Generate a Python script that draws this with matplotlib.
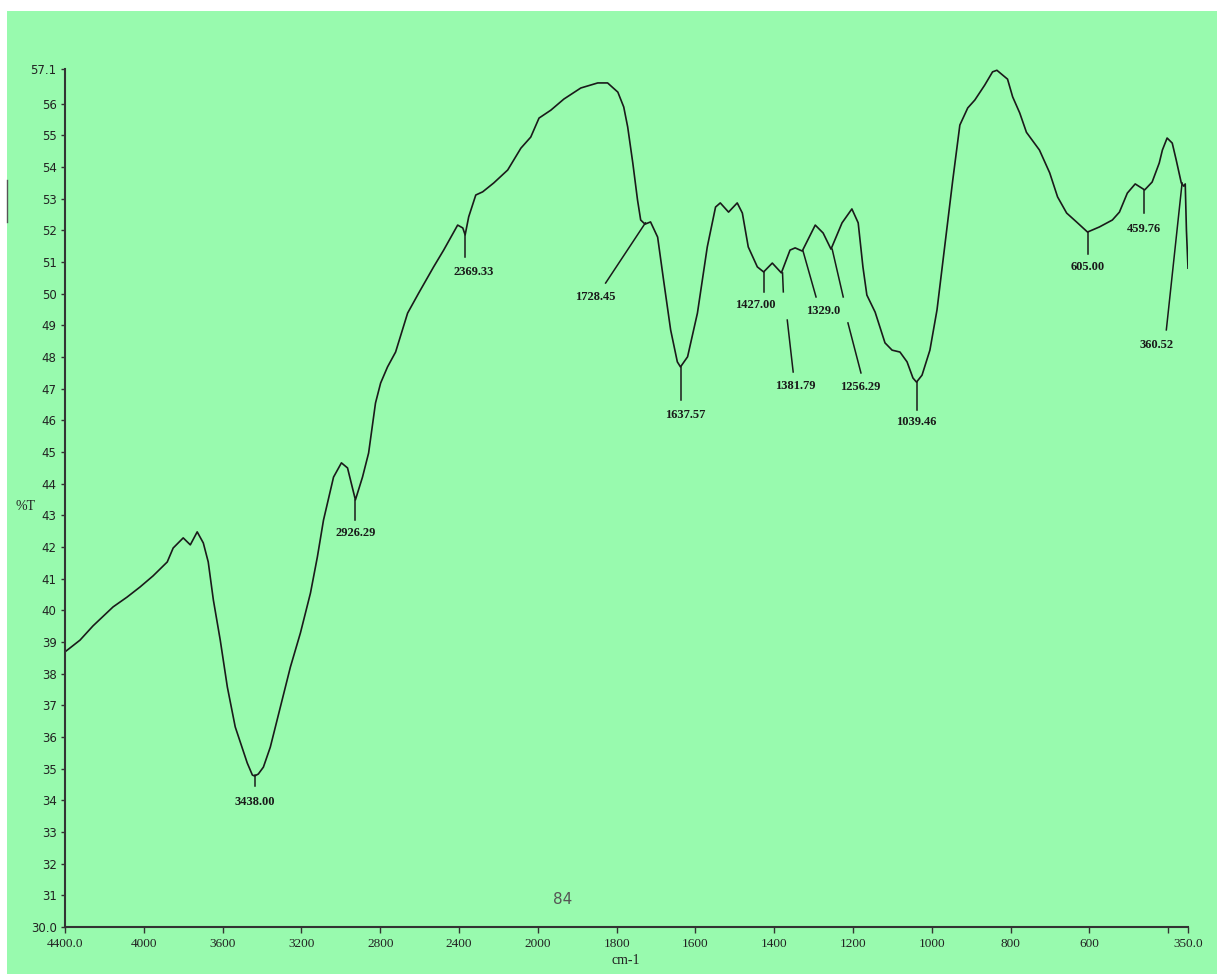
import numpy as np
import matplotlib.pyplot as plt
from matplotlib.lines import Line2D
from matplotlib.patches import Rectangle

# IR spectrum, wavenumber (cm-1) vs transmittance (%T)
wavenumber = [4400, 4324, 4258, 4156, 4085, 4019, 3953, 3881, 3851, 3800,
              3764, 3729, 3698, 3673, 3647, 3612, 3576, 3536, 3475, 3449,
              3438, 3419, 3393, 3358, 3307, 3256, 3205, 3154, 3119, 3088,
              3037, 2997, 2966, 2926, 2890, 2859, 2824, 2798, 2763, 2722,
              2661, 2605, 2529, 2478, 2407, 2381, 2369, 2351, 2315, 2280,
              2224, 2153, 2086, 2036, 1997, 1967, 1934, 1891, 1848, 1823,
              1797, 1782, 1772, 1759, 1747, 1739, 1728, 1714, 1696, 1681,
              1663, 1646, 1638, 1620, 1595, 1570, 1549, 1537, 1516, 1494,
              1481, 1466, 1443, 1427, 1405, 1382, 1360, 1347, 1329, 1296,
              1276, 1256, 1228, 1203, 1187, 1175, 1165, 1144, 1132, 1119,
              1101, 1081, 1063, 1048, 1039, 1025, 1005, 987, 967, 947,
              929, 909, 891, 866, 846, 835, 808, 795, 777, 760,
              727, 701, 681, 658, 633, 605, 575, 542, 524, 504,
              484, 460, 441, 423, 415, 403, 390, 380, 367, 361,
              357, 354, 350]
transmittance = [38.69, 39.06, 39.51, 40.11, 40.42, 40.74, 41.09, 41.53, 41.97, 42.29,
                 42.07, 42.48, 42.13, 41.53, 40.33, 39.06, 37.58, 36.32, 35.18, 34.80,
                 34.77, 34.83, 35.05, 35.68, 36.95, 38.21, 39.29, 40.55, 41.69, 42.85,
                 44.21, 44.66, 44.50, 43.49, 44.21, 44.97, 46.55, 47.18, 47.69, 48.16,
                 49.39, 50.02, 50.85, 51.38, 52.17, 52.08, 51.86, 52.43, 53.12, 53.22,
                 53.50, 53.91, 54.60, 54.95, 55.55, 55.80, 56.15, 56.50, 56.66, 56.66,
                 56.37, 55.90, 55.27, 54.13, 52.96, 52.33, 52.20, 52.27, 51.79, 50.44,
                 48.86, 47.85, 47.69, 48.01, 49.39, 51.48, 52.74, 52.87, 52.58, 52.87,
                 52.55, 51.48, 50.85, 50.69, 50.97, 50.66, 51.38, 51.45, 51.35, 52.17,
                 51.92, 51.41, 52.24, 52.68, 52.24, 50.85, 49.96, 49.42, 48.95, 48.45,
                 48.22, 48.16, 47.85, 47.34, 47.21, 47.43, 48.22, 49.49, 51.54, 53.59,
                 55.33, 55.87, 56.12, 56.59, 57.01, 57.06, 56.78, 56.22, 55.71, 55.10,
                 54.54, 53.82, 53.06, 52.55, 52.27, 51.95, 52.11, 52.33, 52.58, 53.18,
                 53.47, 53.28, 53.53, 54.13, 54.54, 54.92, 54.76, 54.23, 53.50, 53.40,
                 53.47, 52.01, 50.81]

# peak labels: text, label position, marker lines (x0, y0, x1, y1)
peak_text = ['3438.00', '2926.29', '2369.33', '1728.45', '1637.57', '1427.00',
             '1381.79', '1329.0', '1256.29', '1039.46', '605.00', '459.76', '360.52']
peak_label_x = [3438, 2926, 2325, 1853, 1625, 1448, 1347, 1276, 1182, 1039, 605, 463, 430]
peak_label_y = [33.95, 42.44, 50.69, 49.90, 46.17, 49.65, 47.09, 49.46, 47.06, 45.95, 50.85, 52.05, 48.38]
peak_lines = [
    [(3438, 34.80, 3438, 34.45)],
    [(2926, 43.49, 2926, 42.86)],
    [(2369, 51.86, 2369, 51.16)],
    [(1727, 52.24, 1828, 50.34)],
    [(1637, 47.69, 1637, 46.65)],
    [(1427, 50.69, 1427, 50.06)],
    [(1379, 50.66, 1377, 50.06), (1367, 49.17, 1352, 47.53)],
    [(1327, 51.35, 1294, 49.90)],
    [(1253, 51.41, 1225, 49.90), (1213, 49.08, 1180, 47.50)],
    [(1039, 47.21, 1039, 46.33)],
    [(605, 51.95, 605, 51.26)],
    [(461, 53.28, 461, 52.55)],
    [(365, 53.50, 405, 48.86)],
]

x_ticks = [4400, 4000, 3600, 3200, 2800, 2400, 2000, 1800, 1600, 1400, 1200, 1000, 800, 600, 400, 350]
x_tick_labels = ['4400.0', '4000', '3600', '3200', '2800', '2400', '2000', '1800', '1600',
                 '1400', '1200', '1000', '800', '600', '', '350.0']
y_ticks = [30.0] + list(range(31, 57)) + [57.1]
y_tick_labels = ['30.0'] + [str(v) for v in range(31, 57)] + ['57.1']

bg = '#98FAAE'
ink = '#1a1a1a'


# the instrument doubles the scale below 2000 cm-1
def fwd(x):
    x = np.asarray(x, dtype=float)
    return np.where(x >= 2000, x, 2 * x - 2000)


def inv(t):
    t = np.asarray(t, dtype=float)
    return np.where(t >= 2000, t, (t + 2000) / 2)


fig = plt.figure(figsize=(12.17, 9.74), dpi=100, facecolor='white')
fig.patches.append(Rectangle((7 / 1217, 0), 1, 963 / 974, transform=fig.transFigure,
                             facecolor=bg, edgecolor='none', zorder=-10))
fig.lines.append(Line2D([7 / 1217, 7 / 1217], [1 - 180 / 974, 1 - 222 / 974],
                        transform=fig.transFigure, color='#555555', lw=1))

ax = fig.add_axes([65 / 1217, 47 / 974, 1123 / 1217, 858 / 974])
ax.set_facecolor('none')
ax.set_xscale('function', functions=(fwd, inv))
ax.set_xlim(4400, 350)
ax.set_ylim(30.0, 57.1)

ax.plot(wavenumber, transmittance, color=ink, lw=1.2)

for txt, lx, ly, segs in zip(peak_text, peak_label_x, peak_label_y, peak_lines):
    for x0, y0, x1, y1 in segs:
        ax.plot([x0, x1], [y0, y1], color=ink, lw=1.1)
    ax.text(lx, ly, txt, ha='center', va='center', fontsize=9, fontweight='bold',
            family='Liberation Serif', color=ink)

for s in ['top', 'right']:
    ax.spines[s].set_visible(False)
for s in ['left', 'bottom']:
    ax.spines[s].set_color('#333333')
    ax.spines[s].set_linewidth(1.5)

ax.set_xticks(x_ticks)
ax.set_xticklabels(x_tick_labels, family='Liberation Serif', fontsize=9.5, color='#222222')
ax.xaxis.set_minor_locator(plt.NullLocator())
ax.set_yticks(y_ticks)
ax.set_yticklabels(y_tick_labels, family='DejaVu Sans', fontsize=8.5, color='#222222')
ax.tick_params(axis='x', direction='out', length=4, width=1, color='#333333', pad=4)
ax.tick_params(axis='y', direction='out', length=3, width=1, color='#333333', pad=3)

fig.text(25 / 1217, 1 - 506 / 974, '%T', ha='center', va='center', fontsize=10,
         family='Liberation Serif', color='#222222')
fig.text(626 / 1217, 1 - 960 / 974, 'cm-1', ha='center', va='center', fontsize=10,
         family='Liberation Serif', color='#222222')
fig.text(563 / 1217, 1 - 900 / 974, '84', ha='center', va='center', fontsize=11,
         family='DejaVu Sans', color='#555555')

fig.savefig('out.png', dpi=100, facecolor='white')
